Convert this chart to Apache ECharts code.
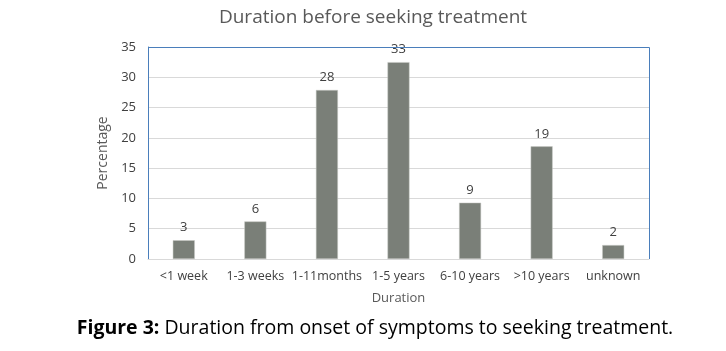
<!DOCTYPE html>
<html>
<head>
<meta charset="utf-8">
<script src="https://cdn.jsdelivr.net/npm/echarts@6/dist/echarts.min.js"></script>
<style>
  html, body { margin: 0; padding: 0; background: #fff; }
  #chart { width: 726px; height: 351px; }
</style>
</head>
<body>
<div id="chart"></div>
<script>
  // categories and values
  var categories = ['<1 week', '1-3 weeks', '1-11months', '1-5 years', '6-10 years', '>10 years', 'unknown'];
  var percentages = [3.1, 6.2, 27.9, 32.5, 9.3, 18.6, 2.3];
  var yTicks = [0, 5, 10, 15, 20, 25, 30, 35];

  var font = '"Open Sans", "Noto Sans", sans-serif';
  var chart = echarts.init(document.getElementById('chart'));

  chart.setOption({
    animation: false,
    title: {
      text: 'Duration before seeking treatment',
      left: 368,
      textAlign: 'center',
      top: 3,
      textStyle: { fontFamily: font, fontSize: 19, fontWeight: 'normal', color: '#595959' }
    },
    grid: { left: 148, right: 77, top: 47, bottom: 92 },
    xAxis: {
      type: 'category',
      data: categories,
      name: 'Duration',
      nameLocation: 'middle',
      nameGap: 33,
      nameTextStyle: { fontFamily: font, fontSize: 13, color: '#595959' },
      axisTick: { show: false },
      axisLine: { lineStyle: { color: '#d9d9d9' } },
      axisLabel: { fontFamily: font, fontSize: 12.5, color: '#404040', margin: 11, interval: 0 }
    },
    yAxis: {
      type: 'value',
      min: yTicks[0],
      max: yTicks[yTicks.length - 1],
      interval: 5,
      name: 'Percentage',
      nameLocation: 'middle',
      nameGap: 34,
      nameTextStyle: { fontFamily: font, fontSize: 14, color: '#595959' },
      axisLine: { show: true, lineStyle: { color: '#4a7ebb' } },
      axisTick: { show: false },
      axisLabel: { fontFamily: font, fontSize: 13, color: '#404040', margin: 12 },
      splitLine: { lineStyle: { color: '#d9d9d9' } }
    },
    graphic: [
      {
        // blue frame on top and right of the plot area
        type: 'polyline',
        shape: { points: [[148, 47.5], [649.5, 47.5], [649.5, 259]] },
        style: { stroke: '#4a7ebb', lineWidth: 1, fill: null },
        z: 10
      },
      {
        type: 'text',
        x: 375,
        y: 318,
        style: {
          text: '{b|Figure 3:} Duration from onset of symptoms to seeking treatment.',
          font: '19.5px ' + font,
          fill: '#000',
          align: 'center',
          rich: {
            b: { fontFamily: font, fontSize: 19.5, fontWeight: 'bold', fill: '#000' }
          }
        }
      }
    ],
    series: [{
      type: 'bar',
      data: percentages,
      barWidth: 22,
      itemStyle: { color: '#7a7f78', borderColor: '#c8cac6', borderWidth: 0.5 },
      label: {
        show: true,
        position: 'top',
        distance: 6,
        fontFamily: font,
        fontSize: 13,
        color: '#404040',
        formatter: function (p) { return Math.round(p.value); }
      }
    }]
  });
</script>
</body>
</html>
